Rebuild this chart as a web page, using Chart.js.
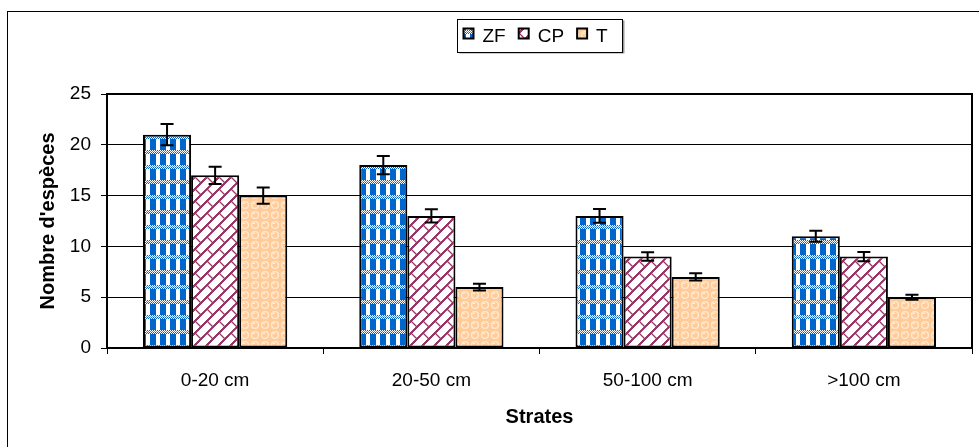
<!DOCTYPE html>
<html><head><meta charset="utf-8">
<script src="https://cdn.jsdelivr.net/npm/chart.js@4/dist/chart.umd.min.js"></script>
<style>html,body{margin:0;padding:0;background:#fff}canvas{display:block}</style>
</head><body>
<canvas id="c" width="979" height="447"></canvas>
<script>
const categories = ['0-20 cm', '20-50 cm', '50-100 cm', '>100 cm'];
const seriesNames = ['ZF', 'CP', 'T'];
const zfValues = [21, 18, 13, 11];
const cpValues = [17, 13, 9, 9];
const tValues = [15, 6, 7, 5];
const zfErrors = [1.05, 0.9, 0.67, 0.55];
const cpErrors = [0.85, 0.65, 0.42, 0.45];
const tErrors = [0.8, 0.33, 0.35, 0.25];
const yTicks = [0, 5, 10, 15, 20, 25];
const xTitle = 'Strates';
const yTitle = "Nombre d'espèces";

const FONT = "'Liberation Sans', Arial, sans-serif";
const mainCtx = document.getElementById('c').getContext('2d');

function makePattern(w, h, draw) {
  const c = document.createElement('canvas');
  c.width = w; c.height = h;
  const g = c.getContext('2d');
  draw(g, w, h);
  return mainCtx.createPattern(c, 'repeat');
}

const zfPattern = makePattern(10, 15, (g, w, h) => {
  g.fillStyle = '#ffffff'; g.fillRect(0, 0, w, h);
  g.fillStyle = '#0066CC';
  g.fillRect(0, 4, 6, 11);
  for (let y = 0; y < 4; y++) for (let x = 0; x < w; x++) if ((x + y) % 2 === 1) g.fillRect(x, y, 1, 1);
  g.fillStyle = '#4d94db';
  for (let x = 0; x < w; x += 2) g.fillRect(x, 1, 1, 1);
});

const cpPattern = makePattern(24, 24, (g) => {
  g.fillStyle = '#ffffff'; g.fillRect(0, 0, 24, 24);
  g.strokeStyle = '#993366'; g.lineWidth = 1.3;
  const strips = [[0, 3], [12, 3]];
  for (let dx = -48; dx <= 48; dx += 24) for (let dy = -48; dy <= 48; dy += 24) {
    g.beginPath();
    for (let k = -2; k <= 6; k++) { g.moveTo(dx + k * 12, dy); g.lineTo(dx, dy + k * 12); }
    strips.forEach(([c0, p]) => {
      [p, p + 12].forEach(pp => {
        g.moveTo(dx + pp, dy + c0 - pp); g.lineTo(dx + pp + 6, dy + c0 - pp + 6);
      });
    });
    g.stroke();
  }
});

const tPattern = makePattern(10, 10, (g) => {
  g.fillStyle = '#FFCC99'; g.fillRect(0, 0, 10, 10);
  g.strokeStyle = '#FFE9D3'; g.lineWidth = 1.4;
  g.beginPath(); g.arc(5, 5, 3.4, 0, Math.PI * 2); g.stroke();
  g.fillStyle = '#FFF3E8';
  g.fillRect(3, 3, 2, 1);
});

const errBars = {
  id: 'errBars',
  afterDatasetsDraw(chart) {
    const ctx = chart.ctx, ys = chart.scales.y;
    chart.data.datasets.forEach((ds, i) => {
      const meta = chart.getDatasetMeta(i);
      meta.data.forEach((el, j) => {
        const v = ds.data[j], e = ds.errors[j];
        const yt = ys.getPixelForValue(v + e), yb = ys.getPixelForValue(v - e);
        ctx.save();
        ctx.strokeStyle = '#000'; ctx.lineWidth = 2;
        ctx.beginPath();
        ctx.moveTo(el.x, yt); ctx.lineTo(el.x, yb);
        ctx.moveTo(el.x - 6.5, yt); ctx.lineTo(el.x + 6.5, yt);
        ctx.moveTo(el.x - 6.5, yb); ctx.lineTo(el.x + 6.5, yb);
        ctx.stroke();
        ctx.restore();
      });
    });
  }
};

const frames = {
  id: 'frames',
  afterDraw(chart) {
    const ctx = chart.ctx, a = chart.chartArea;
    ctx.save();
    ctx.strokeStyle = '#000'; ctx.lineWidth = 1;
    ctx.strokeRect(7.5, 11.5, 2000, 2000);
    ctx.fillStyle = '#000';
    ctx.fillRect(a.left - 1, a.top - 1, a.right - a.left + 2, 2);
    ctx.fillRect(a.right - 1, a.top - 1, 2, a.bottom - a.top + 2);
    // legend
    const cx = (a.left + a.right) / 2;
    const bw = 165, bh = 33;
    const bx = Math.round(cx - bw / 2) + 0.5, by = 19.5;
    ctx.fillStyle = '#999'; ctx.fillRect(bx + 2, by + 1, bw, bh);
    ctx.fillStyle = '#fff'; ctx.fillRect(bx, by, bw, bh);
    ctx.lineWidth = 1; ctx.strokeStyle = '#000';
    ctx.strokeRect(bx, by, bw, bh);
    ctx.font = '19px ' + FONT;
    ctx.textBaseline = 'middle';
    let x = bx + 6;
    chart.data.datasets.forEach(ds => {
      ctx.fillStyle = ds.backgroundColor;
      ctx.fillRect(x, by + 9, 10, 10);
      ctx.lineWidth = 2; ctx.strokeStyle = '#000';
      ctx.strokeRect(x, by + 9, 10, 10);
      x += 10 + 9;
      ctx.fillStyle = '#000';
      ctx.fillText(ds.label, x, by + bh / 2 + 1);
      x += ctx.measureText(ds.label).width + 13;
    });
    ctx.restore();
  }
};

const values = [zfValues, cpValues, tValues];
const errors = [zfErrors, cpErrors, tErrors];
const patterns = [zfPattern, cpPattern, tPattern];

new Chart(mainCtx, {
  type: 'bar',
  data: {
    labels: categories,
    datasets: seriesNames.map((n, i) => ({
      label: n,
      data: values[i],
      errors: errors[i],
      backgroundColor: patterns[i],
      borderColor: '#000',
      borderWidth: 2,
      borderSkipped: false,
      categoryPercentage: 0.667,
      barPercentage: 1
    }))
  },
  options: {
    responsive: false,
    animation: false,
    devicePixelRatio: 1,
    layout: { padding: { top: 94, right: 7, bottom: 0, left: 0 } },
    plugins: { legend: { display: false }, tooltip: { enabled: false } },
    scales: {
      x: {
        grid: { offset: true, drawOnChartArea: false, color: '#000', tickLength: 6, lineWidth: 1 },
        border: { color: '#000', width: 2 },
        ticks: { color: '#000', font: { family: FONT, size: 19 }, padding: 15, maxRotation: 0 },
        title: { display: true, text: xTitle, color: '#000', font: { family: FONT, size: 20, weight: 'bold' }, padding: { top: 0, bottom: 18 } },
        afterFit(s) { s.height = 99; }
      },
      y: {
        min: 0, max: 25,
        afterBuildTicks(s) { s.ticks = yTicks.map(v => ({ value: v })); },
        grid: { color: '#000', tickLength: 6, lineWidth: 1 },
        border: { color: '#000', width: 2 },
        ticks: { color: '#000', font: { family: FONT, size: 19 }, padding: 10 },
        title: { display: true, text: yTitle, color: '#000', font: { family: FONT, size: 20, weight: 'bold' }, padding: { top: 36, bottom: 0 } },
        afterFit(s) { s.width = 107; }
      }
    }
  },
  plugins: [errBars, frames]
});
</script>
</body></html>
